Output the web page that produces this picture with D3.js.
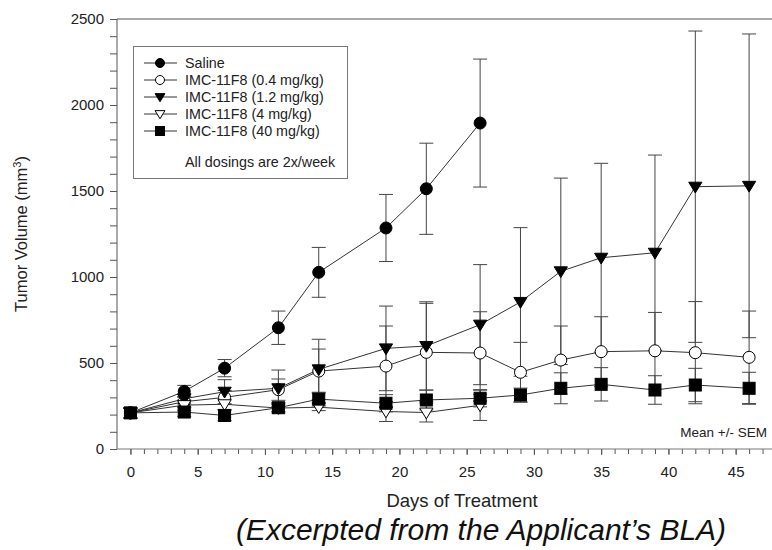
<!DOCTYPE html>
<html>
  <head>
    <script src="https://cdnjs.cloudflare.com/ajax/libs/d3/7.8.5/d3.min.js"></script>
    <style>
      body { margin: 0; background: #fff; }
      svg { font-family: "Liberation Sans", Arial, sans-serif; }
      .axis path, .axis line { stroke: #555; }
      .axis text { font-size: 15px; fill: #222; }
      path.series { fill: none; stroke: #333; stroke-width: 1; }
      line.err { stroke: #444; stroke-width: 1; }
    </style>
  </head>
  <body>
    <svg width="772" height="550"></svg>
    <script>
      // days of treatment
      var daysSaline = [0, 4, 7, 11, 14, 19, 22, 26];
      var daysLong = [0, 4, 7, 11, 14, 19, 22, 26, 29, 32, 35, 39, 42, 46];

      // mean tumour volume and SEM
      var saline = [210, 335, 470, 705, 1027, 1285, 1513, 1895];
      var salineErr = [30, 35, 50, 97, 145, 195, 265, 372];

      var dose04 = [210, 275, 300, 345, 453, 482, 562, 558, 446, 517, 566, 571, 560, 533];
      var dose04Err = [30, 30, 40, 62, 128, 233, 285, 240, 174, 198, 203, 223, 297, 269];

      var dose12 = [210, 292, 333, 353, 463, 585, 599, 723, 855, 1033, 1112, 1141, 1525, 1530];
      var dose12Err = [30, 30, 70, 106, 175, 246, 257, 349, 432, 542, 549, 568, 905, 883];

      var dose4 = [210, 255, 260, 238, 243, 218, 212, 254];
      var dose4Err = [30, 30, 30, 20, 20, 58, 55, 88];

      var dose40 = [210, 215, 195, 240, 290, 266, 285, 295, 314, 353, 376, 343, 372, 353];
      var dose40Err = [30, 25, 30, 30, 40, 50, 58, 50, 40, 90, 97, 83, 97, 93];

      var labels = ["Saline", "IMC-11F8 (0.4 mg/kg)", "IMC-11F8 (1.2 mg/kg)",
                    "IMC-11F8 (4 mg/kg)", "IMC-11F8 (40 mg/kg)"];
      var yTicks = [0, 500, 1000, 1500, 2000, 2500];
      var xTicks = [0, 5, 10, 15, 20, 25, 30, 35, 40, 45];

      var series = [
        { name: labels[0], x: daysSaline, y: saline, e: salineErr, shape: "circle", fill: "#000" },
        { name: labels[1], x: daysLong, y: dose04, e: dose04Err, shape: "circle", fill: "#fff" },
        { name: labels[2], x: daysLong, y: dose12, e: dose12Err, shape: "tri", fill: "#000" },
        { name: labels[3], x: daysSaline, y: dose4, e: dose4Err, shape: "tri", fill: "#fff" },
        { name: labels[4], x: daysLong, y: dose40, e: dose40Err, shape: "square", fill: "#000" }
      ];

      var svg = d3.select("svg");
      var x = d3.scaleLinear().domain([-1, 48]).range([117, 776]);
      var y = d3.scaleLinear().domain([0, 2500]).range([449, 19]);

      // axes with minor ticks
      svg.append("g").attr("class", "axis")
        .attr("transform", "translate(0,449)")
        .call(d3.axisBottom(x).tickValues(d3.range(0, 48)).tickSize(5).tickFormat(""))
        .call(g => g.select(".domain").remove());
      svg.append("g").attr("class", "axis")
        .attr("transform", "translate(0,449)")
        .call(d3.axisBottom(x).tickValues(xTicks).tickSize(6).tickPadding(11))
        .call(g => g.select(".domain").remove());
      svg.append("g").attr("class", "axis")
        .attr("transform", "translate(117,0)")
        .call(d3.axisLeft(y).tickValues(d3.range(0, 2600, 100)).tickSize(7).tickFormat(""))
        .call(g => g.select(".domain").remove());
      svg.append("g").attr("class", "axis")
        .attr("transform", "translate(117,0)")
        .call(d3.axisLeft(y).tickValues(yTicks).tickSize(7).tickPadding(6).tickFormat(d3.format("d")))
        .call(g => g.select(".domain").remove());

      // frame
      svg.append("line").attr("x1", 117).attr("x2", 117).attr("y1", y(2500)).attr("y2", y(0))
        .attr("stroke", "#555");
      svg.append("line").attr("x1", 117).attr("x2", 772).attr("y1", y(0)).attr("y2", y(0))
        .attr("stroke", "#777");
      svg.append("line").attr("x1", 117).attr("x2", 772).attr("y1", y(2500)).attr("y2", y(2500))
        .attr("stroke", "#555");

      var line = d3.line().x(d => x(d[0])).y(d => y(d[1]));

      function pts(s) { return s.x.map((d, i) => [d, s.y[i], s.e[i]]); }

      // lines
      series.forEach(s => {
        svg.append("path").attr("class", "series").attr("d", line(pts(s)));
      });

      // error bars
      series.forEach(s => {
        var g = svg.append("g");
        pts(s).forEach(p => {
          var cx = x(p[0]);
          g.append("line").attr("class", "err")
            .attr("x1", cx).attr("x2", cx).attr("y1", y(p[1] + p[2])).attr("y2", y(p[1] - p[2]));
          [p[1] + p[2], p[1] - p[2]].forEach(v => {
            g.append("line").attr("class", "err")
              .attr("x1", cx - 7).attr("x2", cx + 7).attr("y1", y(v)).attr("y2", y(v));
          });
        });
      });

      function marker(g, shape, fill, cx, cy, r) {
        var m;
        if (shape === "circle") {
          m = g.append("circle").attr("cx", cx).attr("cy", cy).attr("r", r);
        } else if (shape === "square") {
          m = g.append("rect").attr("x", cx - r).attr("y", cy - r)
            .attr("width", 2 * r).attr("height", 2 * r);
        } else {
          m = g.append("path").attr("d", "M" + (cx - r * 1.1) + "," + (cy - r * 0.75) +
            "L" + (cx + r * 1.1) + "," + (cy - r * 0.75) + "L" + cx + "," + (cy + r * 1.05) + "Z");
        }
        m.attr("fill", fill).attr("stroke", "#000").attr("stroke-width", 1);
      }

      // markers
      series.forEach(s => {
        var g = svg.append("g");
        pts(s).forEach(p => marker(g, s.shape, s.fill, x(p[0]), y(p[1]), 6));
      });

      // legend
      var lg = svg.append("g");
      lg.append("rect").attr("x", 133.5).attr("y", 46.5).attr("width", 214).attr("height", 132)
        .attr("fill", "#fff").attr("stroke", "#777");
      series.forEach((s, i) => {
        var ly = 63 + i * 17;
        lg.append("line").attr("x1", 144).attr("x2", 177).attr("y1", ly).attr("y2", ly)
          .attr("stroke", "#333");
        marker(lg, s.shape, s.fill, 160, ly, 4.5);
        lg.append("text").attr("x", 185).attr("y", ly + 5).attr("font-size", 14.3)
          .attr("fill", "#222").text(s.name);
      });
      lg.append("text").attr("x", 185).attr("y", 167).attr("font-size", 14.3)
        .attr("fill", "#222").text("All dosings are 2x/week");

      svg.append("text").attr("x", 767).attr("y", 437).attr("text-anchor", "end")
        .attr("font-size", 13.5).attr("fill", "#222").text("Mean +/- SEM");

      // axis titles
      svg.append("text").attr("transform", "translate(27,234) rotate(-90)")
        .attr("text-anchor", "middle").attr("font-size", 16.5).attr("fill", "#222")
        .html("Tumor Volume (mm<tspan dy='-6' font-size='11'>3</tspan><tspan dy='6'>)</tspan>");
      svg.append("text").attr("x", 462).attr("y", 507).attr("text-anchor", "middle")
        .attr("font-size", 18.5).attr("fill", "#222").text("Days of Treatment");
      svg.append("text").attr("x", 481).attr("y", 540).attr("text-anchor", "middle")
        .attr("font-size", 30).attr("font-style", "italic").attr("fill", "#111")
        .text("(Excerpted from the Applicant\u2019s BLA)");
    </script>
  </body>
</html>
